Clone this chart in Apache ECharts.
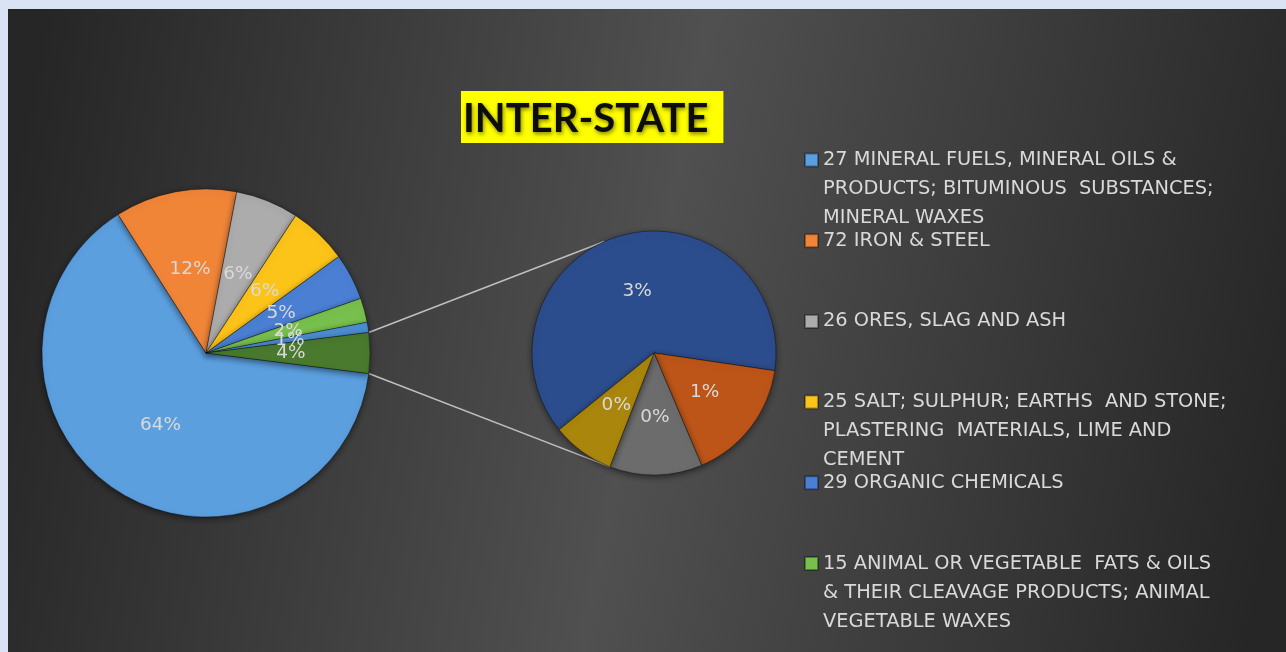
<!DOCTYPE html>
<html>
<head>
<meta charset="utf-8">
<script src="https://cdn.jsdelivr.net/npm/echarts@6/dist/echarts.min.js"></script>
<style>
html, body { margin: 0; padding: 0; background: #dae3f3; }
#chart { position: absolute; left: 8px; top: 9px; width: 1278px; height: 643px; }
</style>
</head>
<body>
<div id="chart"></div>
<script>
// main pie categories (legend shows the first six), values in % of total
var categories = [
	'27 MINERAL FUELS, MINERAL OILS &\nPRODUCTS; BITUMINOUS  SUBSTANCES;\nMINERAL WAXES',
	'72 IRON & STEEL',
	'26 ORES, SLAG AND ASH',
	'25 SALT; SULPHUR; EARTHS  AND STONE;\nPLASTERING  MATERIALS, LIME AND\nCEMENT',
	'29 ORGANIC CHEMICALS',
	'15 ANIMAL OR VEGETABLE  FATS & OILS\n& THEIR CLEAVAGE PRODUCTS; ANIMAL\nVEGETABLE WAXES',
	'Item 7'
];
var mainValues = [64.0, 12.0, 6.2, 5.8, 4.6, 2.4, 1.0];
var mainColors = ['#5b9fdf', '#f08538', '#acacac', '#fcc419', '#4a7fd4', '#78c04e', '#4d8fd6'];

// second pie (split out of "Other")
var otherName = 'Other';
var otherColor = '#497a2d';
var secondNames = ['Item 8', 'Item 9', 'Item 10', 'Item 11'];
var secondValues = [2.52, 0.65, 0.49, 0.33];
var secondColors = ['#2c4d8d', '#bd5519', '#6c6c6c', '#ab860c'];

var otherValue = secondValues.reduce(function(a, b) { return a + b; }, 0);
var total = mainValues.reduce(function(a, b) { return a + b; }, 0) + otherValue;

// layout
var W = 1278, H = 643;
var c1 = [198, 344], r1 = 164;
var c2 = [646, 344], r2 = 122;
var otherDeg = otherValue / total * 360;
var start1 = -otherDeg / 2;

function pct(p) {
	return Math.round(p.value / total * 100) + '%';
}

function polar(c, r, deg) {
	var a = deg * Math.PI / 180;
	return [c[0] + r * Math.cos(a), c[1] - r * Math.sin(a)];
}

var mainData = mainValues.map(function(v, i) {
	return { name: categories[i], value: v, itemStyle: { color: mainColors[i] } };
});
mainData.push({ name: otherName, value: otherValue, itemStyle: { color: otherColor } });

var secondData = secondValues.map(function(v, i) {
	return { name: secondNames[i], value: v, itemStyle: { color: secondColors[i] } };
});

var pTop = polar(c1, r1, start1 + otherDeg);
var pBot = polar(c1, r1, start1);
var qTop = polar(c2, r2, 114);
var qBot = polar(c2, r2, -111);

var sliceStyle = {
	borderColor: 'rgba(0,0,0,0.35)',
	borderWidth: 1,
	shadowColor: 'rgba(0,0,0,0.5)',
	shadowBlur: 6,
	shadowOffsetY: 2
};

var labelStyle = {
	position: 'inside',
	formatter: pct,
	color: '#d9d9d9',
	fontFamily: 'DejaVu Sans',
	fontSize: 18.5,
	textBorderWidth: 0
};

var option = {
	animation: false,
	title: {
		text: 'INTER-STATE',
		left: 453,
		top: 82,
		backgroundColor: '#ffff00',
		padding: [8, 15, 4, 2],
		textStyle: {
			fontFamily: 'Lato',
			fontWeight: 'bold',
			fontSize: 40,
			lineHeight: 40,
			color: '#0d0d0d',
			textShadowColor: 'rgba(0,0,0,0.5)',
			textShadowBlur: 4,
			textShadowOffsetX: 1,
			textShadowOffsetY: 2
		}
	},
	legend: {
		data: categories.slice(0, 6),
		orient: 'vertical',
		left: 796,
		top: 151 - 72.5,
		padding: 0,
		itemWidth: 13,
		itemHeight: 13,
		itemGap: -64.3,
		icon: 'rect',
		selectedMode: false,
		textStyle: {
			color: '#d9d9d9',
			fontFamily: 'DejaVu Sans',
			fontSize: 19.4,
			lineHeight: 29
		},
		formatter: function(name) {
			var out = ['', ''].concat(name.split('\n'));
			while (out.length < 5) out.push('');
			return out.join('\n');
		}
	},
	graphic: [{
		type: 'rect',
		z: -10,
		silent: true,
		shape: { x: 0, y: 0, width: W, height: H },
		style: {
			fill: new echarts.graphic.LinearGradient(0, 0.3, 1, 0.7, [
				{ offset: 0, color: '#262626' },
				{ offset: 0.5, color: '#505050' },
				{ offset: 1, color: '#262626' }
			])
		}
	}, {
		type: 'line',
		silent: true,
		shape: { x1: pTop[0], y1: pTop[1], x2: qTop[0], y2: qTop[1] },
		style: { stroke: '#bfbfbf', lineWidth: 1.5 }
	}, {
		type: 'line',
		silent: true,
		shape: { x1: pBot[0], y1: pBot[1], x2: qBot[0], y2: qBot[1] },
		style: { stroke: '#bfbfbf', lineWidth: 1.5 }
	}],
	series: [{
		type: 'pie',
		silent: true,
		center: c1,
		radius: r1,
		startAngle: start1,
		clockwise: true,
		avoidLabelOverlap: false,
		itemStyle: sliceStyle,
		label: labelStyle,
		labelLine: { show: false },
		labelLayout: { hideOverlap: false },
		data: mainData
	}, {
		type: 'pie',
		silent: true,
		center: c2,
		radius: r2,
		startAngle: 219,
		clockwise: true,
		avoidLabelOverlap: false,
		itemStyle: sliceStyle,
		label: labelStyle,
		labelLine: { show: false },
		labelLayout: { hideOverlap: false },
		data: secondData
	}]
};

var chart = echarts.init(document.getElementById('chart'));
chart.setOption(option);
</script>
</body>
</html>
